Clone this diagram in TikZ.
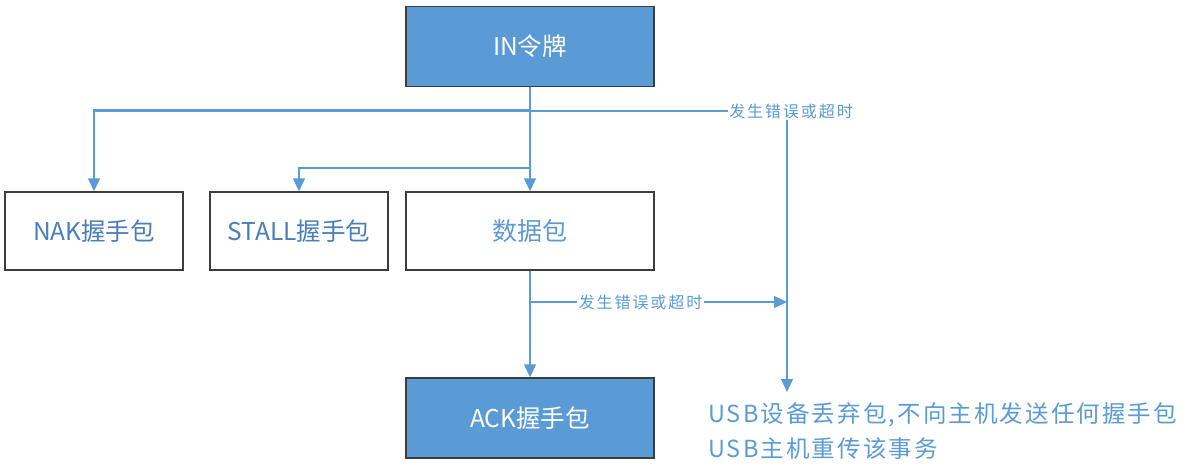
\documentclass[tikz,border=0pt]{standalone}
\usepackage{fontspec}
\setmainfont{Noto Sans CJK SC}
\newfontfamily\spacedfont[LetterSpace=12]{Noto Sans CJK SC}
\newfontfamily\notefont[LetterSpace=9]{Noto Sans CJK SC}
\usetikzlibrary{arrows.meta}
\definecolor{boxfill}{HTML}{5B9BD5}
\definecolor{boxdraw}{HTML}{3C3C3C}
\definecolor{linec}{HTML}{5B9BD5}
\definecolor{textb}{HTML}{4A7EBB}
\tikzset{
  filledbox/.style={draw=boxdraw, fill=boxfill, line width=1.4pt, text=white, minimum width=248pt, minimum height=80pt, inner sep=0pt, font=\fontsize{24.5}{28}\selectfont},
  plainbox/.style={draw=boxdraw, fill=white, line width=1.4pt, text=textb, minimum height=78pt, inner sep=0pt, font=\fontsize{24.5}{28}\selectfont},
  conn/.style={draw=linec, line width=1.3pt, -{Triangle[width=12pt,length=13pt]}},
  plainconn/.style={draw=linec, line width=1.3pt},
  lbl/.style={text=linec, font=\spacedfont\fontsize{16}{19}\selectfont, fill=white, inner sep=1.5pt},
  note/.style={text=linec, font=\notefont\fontsize{23.5}{35}\selectfont, align=left, inner sep=0pt}
}
\begin{document}
\begin{tikzpicture}[x=1pt,y=-1pt]
\useasboundingbox (0,0) rectangle (1190,471);
\node[filledbox] (in) at (530,46.5) {IN令牌};
\node[plainbox, minimum width=178pt] (nak) at (94,231) {NAK握手包};
\node[plainbox, minimum width=178pt] (stall) at (299,231) {STALL握手包};
\node[plainbox, minimum width=248pt, text=linec, font=\fontsize{25}{28}\selectfont] (data) at (530,231) {数据包};
\node[filledbox] (ack) at (530,418) {ACK握手包};
\node[lbl] (err1) at (791,111) {发生错误或超时};
\node[note, anchor=north west] (usb) at (708,402) {USB设备丢弃包,不向主机发送任何握手包\\USB主机重传该事务};
\coordinate (usbtop) at (787,392);
\coordinate (fork1) at (530,110);
\coordinate (fork2) at (530,168);
\coordinate (fork3) at (530,302);
\coordinate (join3) at (787,302);
% connectors
\draw[conn] (in.south) -- (data.north);
\draw[plainconn] (nak.north |- err1.west) -- (err1.west);
\draw[conn] (fork1) -| (nak.north);
\draw[conn] (fork2) -| (stall.north);
\draw[plainconn] (err1.south -| usbtop) -- (join3);
\draw[conn] (join3) -- (usbtop);
\draw[conn] (data.south) -- (ack.north);
\draw[conn] (fork3) -- (join3) node[lbl, pos=0.43] {发生错误或超时};
\end{tikzpicture}
\end{document}
